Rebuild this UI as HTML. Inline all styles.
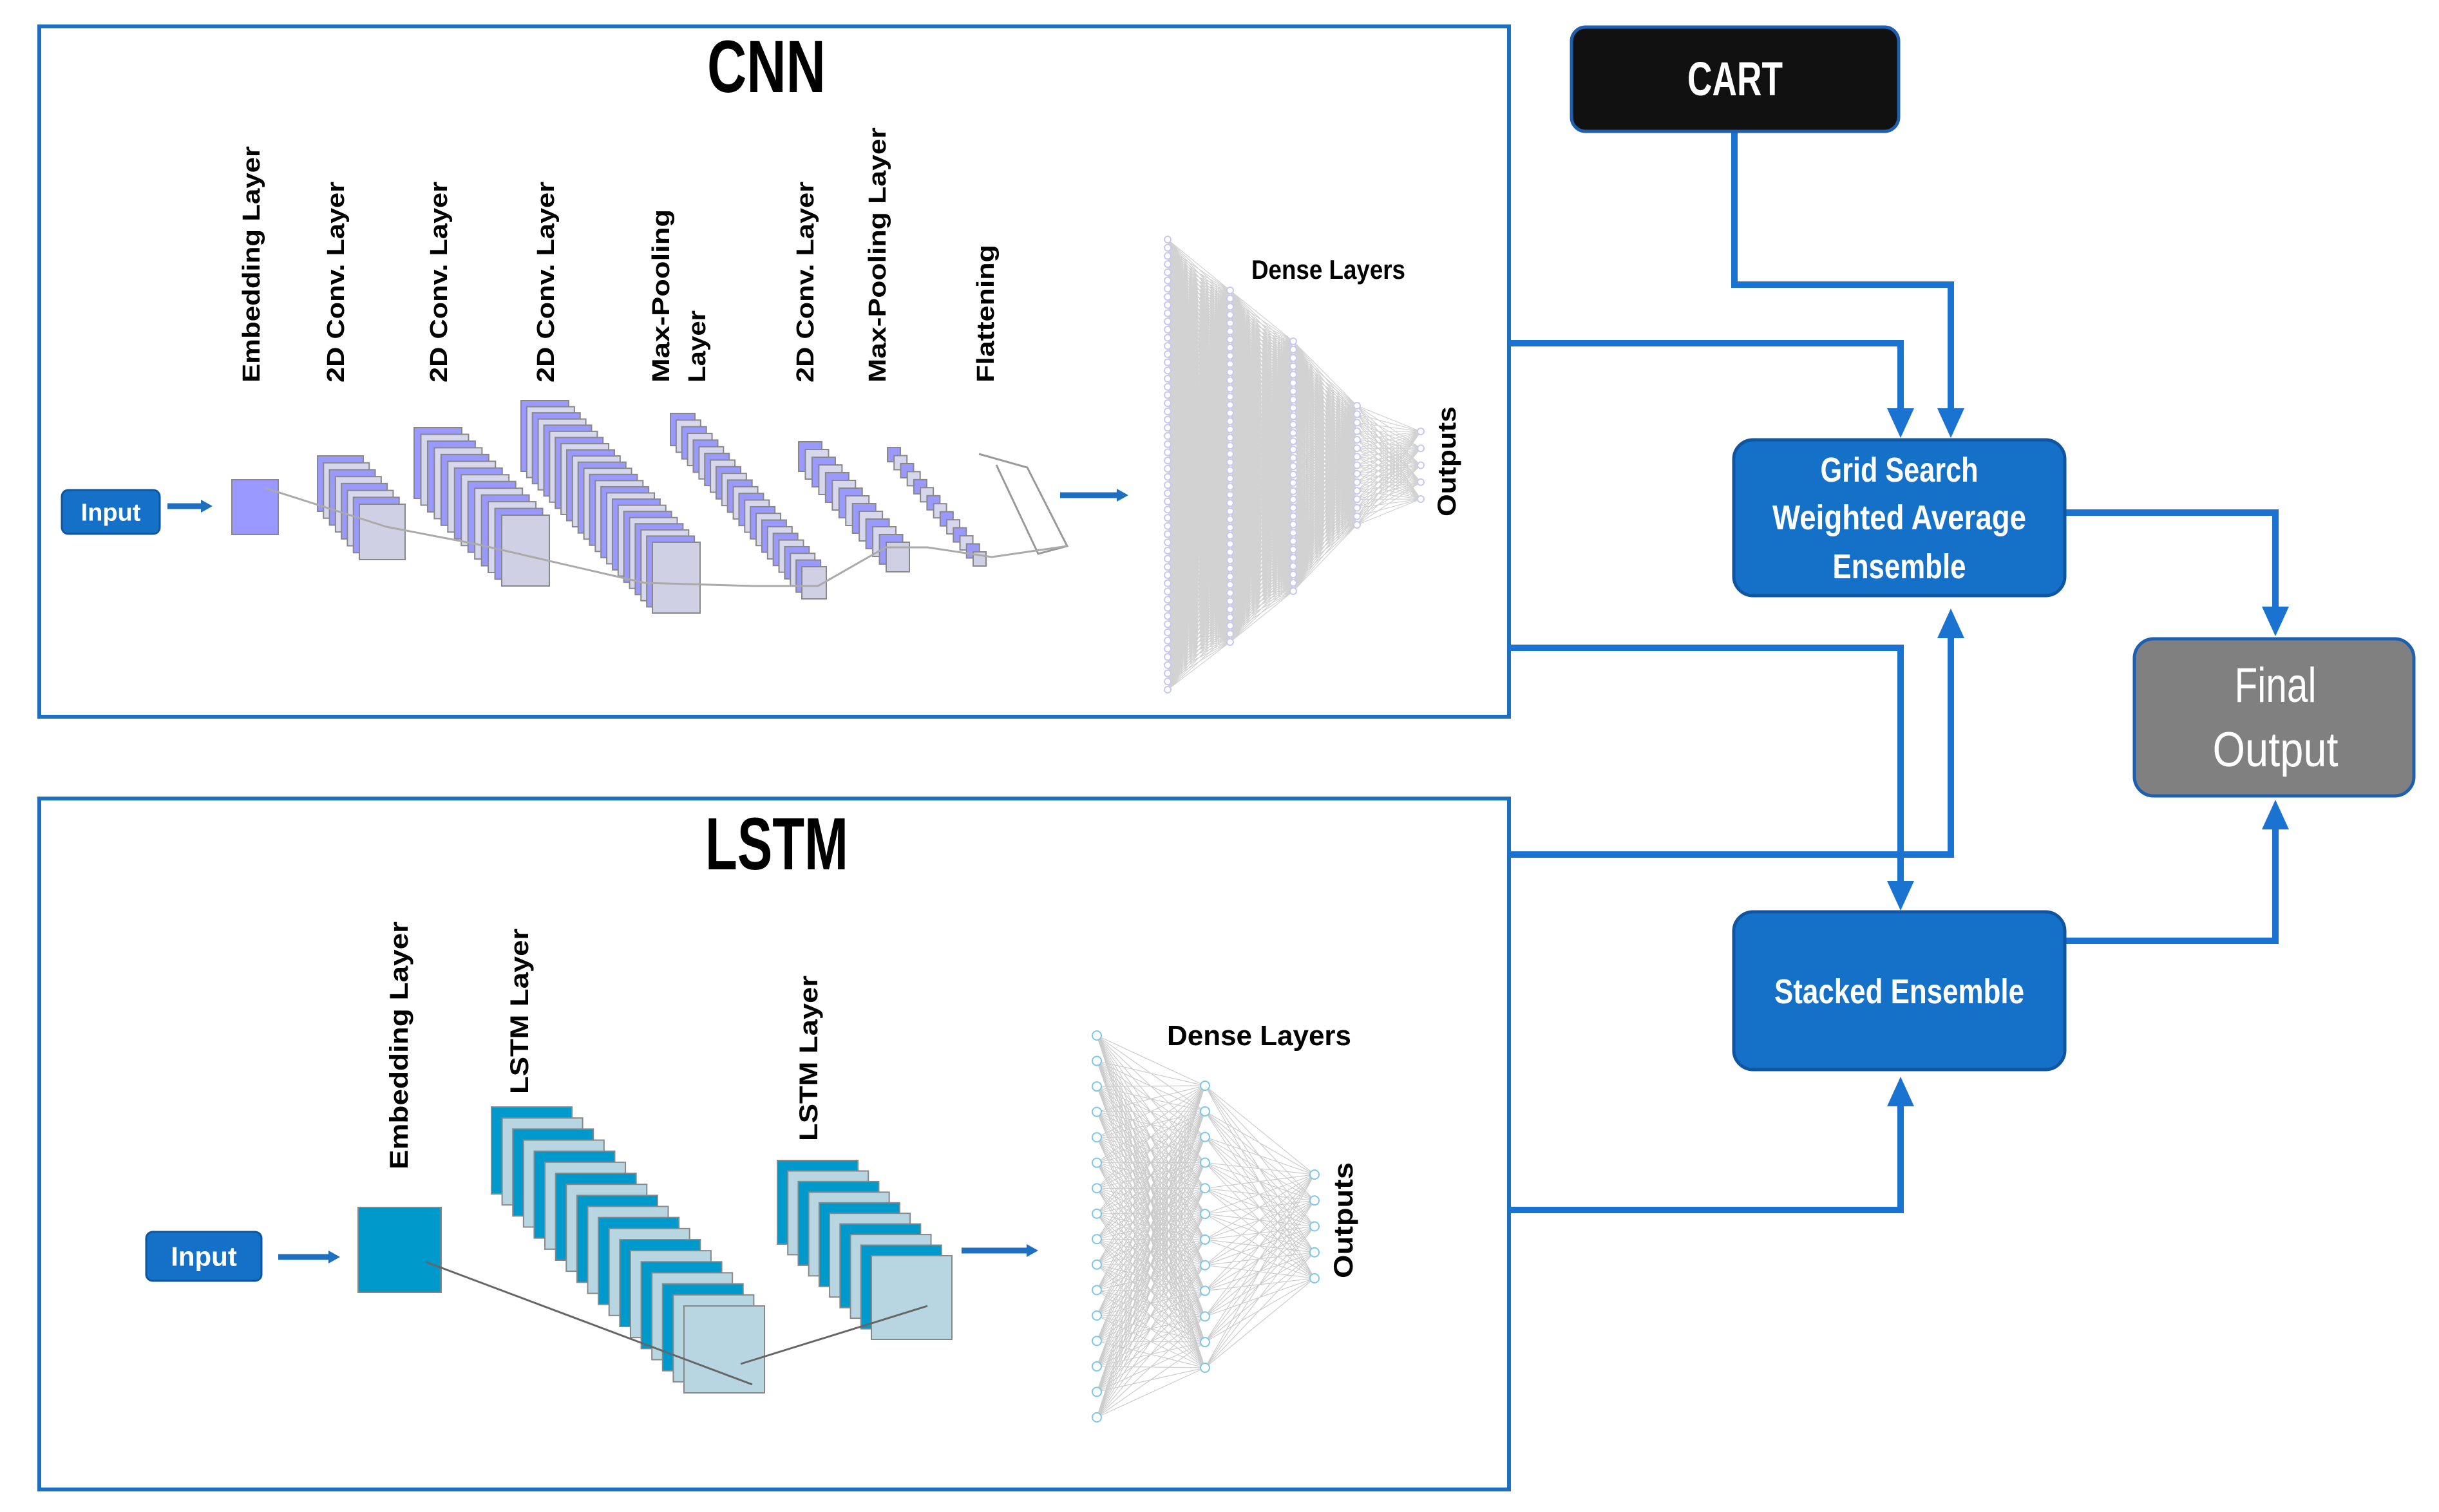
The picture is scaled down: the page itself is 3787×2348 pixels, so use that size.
<!DOCTYPE html>
<html><head><meta charset="utf-8">
<style>
html,body{margin:0;padding:0;background:#fff;}
svg{display:block;}
text{font-family:"Liberation Sans",sans-serif;}
</style></head>
<body>
<svg id="s" width="3787" height="2348" viewBox="0 0 3787 2348" xmlns="http://www.w3.org/2000/svg">
<rect width="3787" height="2348" fill="#fff"/>
<!-- panels -->
<rect x="61" y="41" width="2282" height="1072" fill="#fff" stroke="#1f6fc0" stroke-width="6"/>
<rect x="61" y="1240" width="2282" height="1073" fill="#fff" stroke="#1f6fc0" stroke-width="6"/>
<g id="cnn"></g>
<g id="lstm"></g>
<text x="1190" y="143" font-size="115" font-weight="bold" text-anchor="middle" textLength="184" lengthAdjust="spacingAndGlyphs">CNN</text>
<text x="1206" y="1350" font-size="115" font-weight="bold" text-anchor="middle" textLength="222" lengthAdjust="spacingAndGlyphs">LSTM</text>

<!-- connectors -->
<g fill="none" stroke="#1a73d0" stroke-width="10">
<polyline points="2693,204 2693,442 3029,442 3029,640"/>
<polyline points="2343,533 2951,533 2951,640"/>
<polyline points="2343,1006 2951,1006 2951,1372"/>
<polyline points="2343,1327 3029,1327 3029,985"/>
<polyline points="2343,1879 2951,1879 2951,1712"/>
<polyline points="3206,796 3533,796 3533,948"/>
<polyline points="3206,1461 3533,1461 3533,1284"/>
</g>
<g fill="#1a73d0">
<polygon points="2930,634 2972,634 2951,680"/>
<polygon points="3008,634 3050,634 3029,680"/>
<polygon points="2930,1368 2972,1368 2951,1414"/>
<polygon points="3008,991 3050,991 3029,945"/>
<polygon points="2930,1718 2972,1718 2951,1672"/>
<polygon points="3512,942 3554,942 3533,988"/>
<polygon points="3512,1288 3554,1288 3533,1242"/>
</g>

<!-- nodes -->
<rect x="2440" y="42" width="508" height="162" rx="22" fill="#111" stroke="#1f5fb0" stroke-width="5"/>
<text x="2694" y="148" font-size="74" font-weight="bold" fill="#fff" text-anchor="middle" textLength="148" lengthAdjust="spacingAndGlyphs">CART</text>
<rect x="2692" y="683" width="514" height="242" rx="30" fill="#1570c8" stroke="#0f55a0" stroke-width="5"/>
<g font-size="54" font-weight="bold" fill="#fff" text-anchor="middle" lengthAdjust="spacingAndGlyphs">
<text x="2949" y="748" textLength="245" lengthAdjust="spacingAndGlyphs">Grid Search</text>
<text x="2949" y="822" textLength="394" lengthAdjust="spacingAndGlyphs">Weighted Average</text>
<text x="2949" y="898" textLength="207" lengthAdjust="spacingAndGlyphs">Ensemble</text>
</g>
<rect x="2692" y="1416" width="514" height="245" rx="30" fill="#1570c8" stroke="#0f55a0" stroke-width="5"/>
<text x="2949" y="1558" font-size="54" font-weight="bold" fill="#fff" text-anchor="middle" textLength="388" lengthAdjust="spacingAndGlyphs">Stacked Ensemble</text>
<rect x="3314" y="992" width="434" height="244" rx="30" fill="#808080" stroke="#1f5fb0" stroke-width="5"/>
<text x="3533" y="1090" font-size="76" fill="#fff" text-anchor="middle" textLength="127" lengthAdjust="spacingAndGlyphs">Final</text>
<text x="3533" y="1190" font-size="76" fill="#fff" text-anchor="middle" textLength="195" lengthAdjust="spacingAndGlyphs">Output</text>
</svg>
<script>
var NS="http://www.w3.org/2000/svg";
function el(p,t,a,txt){var e=document.createElementNS(NS,t);for(var k in a)e.setAttribute(k,a[k]);if(txt)e.textContent=txt;p.appendChild(e);return e;}
var cnn=document.getElementById('cnn'),lstm=document.getElementById('lstm');
function stack(g,x0,y0,x1,y1,n,w,h,c1,c2,last){
  var dx=(x1-w-x0)/(n-1),dy=(y1-h-y0)/(n-1);
  for(var i=0;i<n;i++){
    var x=x0+dx*i,y=y0+dy*i;
    var f=(i==n-1)?last:(i%2==0?c1:c2);
    el(g,'rect',{x:x,y:y,width:w,height:h,fill:f,stroke:'#888','stroke-width':2});
  }
}
function btn(g,x,y,w,h,t,fs){
  el(g,'rect',{x:x,y:y,width:w,height:h,rx:10,fill:'#1570c8',stroke:'#0f55a0','stroke-width':3});
  el(g,'text',{x:x+w/2,y:y+h/2+fs*0.35,'font-size':fs,'font-weight':'bold',fill:'#fff','text-anchor':'middle'},t);
}
function arrow(g,x1,x2,y){
  el(g,'line',{x1:x1,y1:y,x2:x2-14,y2:y,stroke:'#1f6fc0','stroke-width':9});
  el(g,'polygon',{points:(x2-18)+','+(y-10)+' '+x2+','+y+' '+(x2-18)+','+(y+10),fill:'#1f6fc0'});
}
function vlab(g,x,ybot,ytop,t,fs){
  el(g,'text',{transform:'translate('+x+','+ybot+') rotate(-90)','font-size':fs,'font-weight':'bold',textLength:(ybot-ytop),lengthAdjust:'spacingAndGlyphs'},t);
}
function dense(g,cols,stroke,op,nodeC,r){
  var pts=cols.map(function(c){var a=[];for(var i=0;i<c.n;i++)a.push([c.x,c.y0+(c.y1-c.y0)*i/(c.n-1)]);return a;});
  var d='';
  for(var k=0;k<pts.length-1;k++)for(var i=0;i<pts[k].length;i++)for(var j=0;j<pts[k+1].length;j++)
    d+='M'+pts[k][i][0]+' '+pts[k][i][1].toFixed(1)+'L'+pts[k+1][j][0]+' '+pts[k+1][j][1].toFixed(1);
  el(g,'path',{d:d,stroke:stroke,'stroke-width':1.2,'stroke-opacity':op,fill:'none'});
  pts.forEach(function(a){a.forEach(function(p){el(g,'circle',{cx:p[0],cy:p[1],r:r,fill:'#fff',stroke:nodeC,'stroke-width':2});});});
}
// CNN
btn(cnn,96,761,152,68,'Input',38);
arrow(cnn,260,330,786);
el(cnn,'rect',{x:360,y:745,width:72,height:85,fill:'#9999ff',stroke:'#888','stroke-width':2});
var P='#9999ff',L='#d6d6ec',LL='#cfd0e4';
stack(cnn,493,708,629,869,8,71,86,P,L,LL);
stack(cnn,643,664,853,910,14,74,110,P,L,LL);
stack(cnn,809,622,1087,952,24,74,110,P,L,LL);
stack(cnn,1041,642,1283,930,24,38,50,P,L,LL);
stack(cnn,1240,686,1412,888,14,36,46,P,L,LL);
stack(cnn,1378,695,1531,879,14,20,22,P,L,LL);
el(cnn,'polyline',{points:'1520,705 1595,726 1657,848 1612,860 1547,722',fill:'none',stroke:'#999','stroke-width':3});
el(cnn,'polyline',{points:'412,758 600,818 740,845 1000,905 1170,910 1270,910 1375,850 1440,850 1540,865 1657,848',fill:'none',stroke:'#aaa','stroke-width':3});
arrow(cnn,1646,1752,769);
var labs=[[390,594,227,'Embedding Layer'],[521,594,282,'2D Conv. Layer'],[681,594,282,'2D Conv. Layer'],[847,594,282,'2D Conv. Layer'],[1026,594,325,'Max-Pooling'],[1082,594,482,'Layer'],[1250,594,282,'2D Conv. Layer'],[1362,594,198,'Max-Pooling Layer'],[1530,594,380,'Flattening']];
labs.forEach(function(l){vlab(cnn,l[0]+13,l[1],l[2],l[3],38);});
dense(cnn,[{x:1813,y0:372,y1:1071,n:56},{x:1910,y0:451,y1:997,n:44},{x:2008,y0:530,y1:918,n:31},{x:2107,y0:630,y1:815,n:15},{x:2206,y0:670,y1:775,n:5}],'#333',0.22,'#c8c8f0',5);
el(cnn,'text',{x:1943,y:433,'font-size':42,'font-weight':'bold',textLength:239,lengthAdjust:'spacingAndGlyphs'},'Dense Layers');
vlab(cnn,2260,802,631,'Outputs',40);
// LSTM
btn(lstm,227,1913,179,76,'Input',42);
arrow(lstm,432,528,1952);
el(lstm,'rect',{x:556,y:1875,width:129,height:132,fill:'#0099cc',stroke:'#888','stroke-width':2});
var B='#0099cc',LB='#b8d6e2';
stack(lstm,763,1719,1187,2163,19,125,135,B,LB,'#b8d6e2');
stack(lstm,1207,1802,1478,2080,10,125,130,B,LB,'#b8d6e2');
el(lstm,'line',{x1:662,y1:1960,x2:1168,y2:2150,stroke:'#666','stroke-width':3});
el(lstm,'line',{x1:1150,y1:2118,x2:1440,y2:2028,stroke:'#666','stroke-width':3});
arrow(lstm,1493,1612,1942);
vlab(lstm,633,1816,1431,'Embedding Layer',40);
vlab(lstm,820,1699,1442,'LSTM Layer',40);
vlab(lstm,1269,1772,1515,'LSTM Layer',40);
dense(lstm,[{x:1703,y0:1608,y1:2201,n:16},{x:1871,y0:1686,y1:2124,n:12},{x:2041,y0:1824,y1:1985,n:5}],'#555',0.3,'#7cc8e8',7);
el(lstm,'text',{x:1812,y:1623,'font-size':44,'font-weight':'bold',textLength:286,lengthAdjust:'spacingAndGlyphs'},'Dense Layers');
vlab(lstm,2100,1985,1805,'Outputs',42);
</script>
</body></html>
